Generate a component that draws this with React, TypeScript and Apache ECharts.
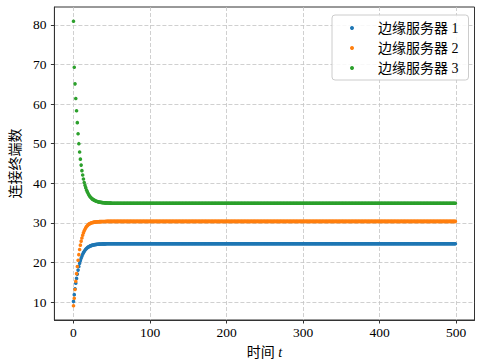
import React, { useEffect, useRef } from "react";
import * as echarts from "echarts";

// time steps t = 0 .. 499
const T_COUNT = 500;

// transient part (t = 0 .. 49)
const blueEarly = [10.2, 11.9, 13.4, 14.8, 16.0, 17.1, 18.1, 19.0, 19.8, 20.5, 21.1, 21.6, 22.1, 22.5, 22.8, 23.1, 23.35, 23.55, 23.75, 23.9, 24.0, 24.1, 24.2, 24.28, 24.35, 24.4, 24.45, 24.5, 24.53, 24.56, 24.59, 24.61, 24.63, 24.65, 24.67, 24.68, 24.69, 24.7, 24.71, 24.72, 24.72, 24.73, 24.73, 24.74, 24.74, 24.74, 24.75, 24.75, 24.75, 24.75];
const orangeEarly = [9.1, 11.0, 13.2, 15.3, 17.2, 19.0, 20.6, 22.0, 23.3, 24.4, 25.4, 26.2, 26.9, 27.5, 28.0, 28.4, 28.8, 29.1, 29.3, 29.5, 29.7, 29.8, 29.9, 30.0, 30.05, 30.1, 30.15, 30.2, 30.22, 30.25, 30.27, 30.29, 30.3, 30.31, 30.32, 30.33, 30.34, 30.35, 30.36, 30.36, 30.37, 30.37, 30.38, 30.38, 30.39, 30.39, 30.39, 30.4, 30.4, 30.4];
const greenEarly = [80.9, 69.3, 65.1, 61.4, 58.3, 55.3, 52.5, 50.0, 47.9, 46.1, 44.6, 43.2, 42.1, 41.1, 40.2, 39.5, 38.9, 38.3, 37.9, 37.5, 37.1, 36.8, 36.55, 36.35, 36.15, 36.0, 35.85, 35.75, 35.65, 35.55, 35.47, 35.4, 35.34, 35.29, 35.25, 35.21, 35.18, 35.15, 35.13, 35.11, 35.09, 35.07, 35.06, 35.05, 35.04, 35.03, 35.02, 35.01, 35.0, 34.99];

// steady-state levels held to the end (flat in the picture)
const steadyLevels = [24.75, 30.4, 34.97];

const seriesNames = ["边缘服务器 1", "边缘服务器 2", "边缘服务器 3"];
const seriesColors = ["#1f77b4", "#ff7f0e", "#2ca02c"];

const xTicks = [0, 100, 200, 300, 400, 500];
const yTicks = [10, 20, 30, 40, 50, 60, 70, 80];

function buildSeries(early: number[], steady: number) {
  const out: [number, number][] = [];
  for (let t = 0; t < T_COUNT; t++) {
    out.push([t, t < early.length ? early[t] : steady]);
  }
  return out;
}

const FONT = "'Liberation Serif', 'Noto Sans CJK SC', serif";

export default function App() {
  const ref = useRef<HTMLDivElement>(null);
  useEffect(() => {
    if (!ref.current) return;
    const chart = echarts.init(ref.current, undefined, { renderer: "svg" });
    const earlies = [blueEarly, orangeEarly, greenEarly];
    const axisColor = "#333333";
    const gridLine = { show: true, lineStyle: { color: "#c4c4c4", type: [4, 2] as any, width: 0.8 } };
    chart.setOption({
      animation: false,
      backgroundColor: "#ffffff",
      textStyle: { fontFamily: FONT },
      grid: {
        left: 53, right: 2.5, top: 7, bottom: 41.3, containLabel: false,
        show: true, borderColor: axisColor, borderWidth: 1, backgroundColor: "transparent",
      },
      legend: {
        orient: "vertical",
        left: 332, top: 15,
        data: seriesNames,
        icon: "circle",
        itemWidth: 4, itemHeight: 4,
        itemGap: 6,
        padding: [6, 10, 5, 18],
        backgroundColor: "rgba(255,255,255,0.85)",
        borderColor: "#cccccc", borderWidth: 1, borderRadius: 3,
        textStyle: { fontFamily: FONT, fontSize: 14, color: "#000", lineHeight: 14, padding: [0, 0, 0, 19] },
      },
      xAxis: {
        type: "value",
        min: -24.95, max: 523.95,
        name: "{a|时间 }{b|t}",
        nameLocation: "middle",
        nameGap: 25,
        nameTextStyle: {
          rich: {
            a: { fontFamily: FONT, fontSize: 14, color: "#000" },
            b: { fontFamily: FONT, fontSize: 14, color: "#000", fontStyle: "italic" },
          },
        },
        axisLine: { show: true, onZero: false, lineStyle: { color: axisColor, width: 1 } },
        axisTick: { show: true, inside: false, length: 3.5, customValues: xTicks, lineStyle: { color: axisColor } },
        axisLabel: { customValues: xTicks, margin: 6, fontFamily: FONT, fontSize: 13.5, color: "#000" },
        splitLine: gridLine,
      },
      yAxis: {
        type: "value",
        min: 5.51, max: 84.49,
        name: "连接终端数",
        nameLocation: "middle",
        nameGap: 26,
        nameTextStyle: { fontFamily: FONT, fontSize: 14, color: "#000" },
        axisLine: { show: true, onZero: false, lineStyle: { color: axisColor, width: 1 } },
        axisTick: { show: true, inside: false, length: 3.5, customValues: yTicks, lineStyle: { color: axisColor } },
        axisLabel: { customValues: yTicks, margin: 8, fontFamily: FONT, fontSize: 13.5, color: "#000" },
        splitLine: gridLine,
      },
      series: seriesNames.map((name, i) => ({
        name,
        type: "scatter",
        symbol: "circle",
        symbolSize: 3.6,
        itemStyle: { color: seriesColors[i], opacity: 1 },
        data: buildSeries(earlies[i], steadyLevels[i]),
        z: 2 + i,
      })),
    });
    return () => chart.dispose();
  }, []);
  return (
    <div
      ref={ref}
      style={{ position: "fixed", left: 0, top: 0, width: 477, height: 364, background: "#fff" }}
    />
  );
}
